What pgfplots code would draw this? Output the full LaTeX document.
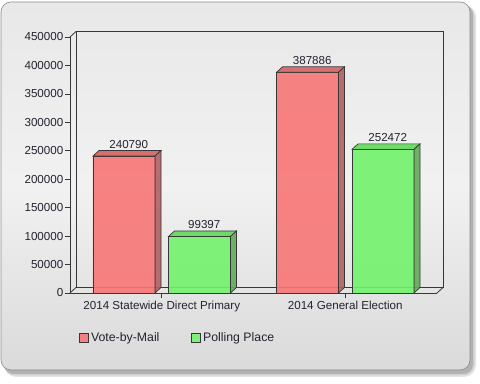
\documentclass[border=0pt]{standalone}
\usepackage{fontspec}
\setmainfont{Liberation Sans}
\usepackage{pgfplots}
\pgfplotsset{compat=1.18}
\usepackage{pgfplotstable}

\definecolor{redfront}{RGB}{248,118,118}
\definecolor{redtop}{RGB}{214,98,98}
\definecolor{redside}{RGB}{176,96,96}
\definecolor{greenfront}{RGB}{114,242,108}
\definecolor{greentop}{RGB}{98,216,90}
\definecolor{greenside}{RGB}{98,170,90}
\definecolor{edge}{RGB}{55,55,55}
\definecolor{txt}{RGB}{35,35,48}
\definecolor{metalA}{RGB}{232,232,232}
\definecolor{metalB}{RGB}{218,218,218}

\pgfplotstableread{
x y
0 240790
1 387886
}\mail
\pgfplotstableread{
x y
0 99397
1 252472
}\polling

\pgfdeclareplotmark{nothing}{}

\pgfplotsset{
  threed/.style n args={3}{
    scatter, only marks, mark=nothing, forget plot,
    visualization depends on={rawy \as \ry},
    scatter/@pre marker code/.code={%
      \edef\hh{\fpeval{\ry*256/450000}}%
      \begin{pgfscope}%
      \pgftransformshift{\pgfpoint{#1}{0pt}}%
      \pgfsetlinewidth{0.7bp}%
      \pgfsetstrokecolor{edge}%
      \pgfsetfillopacity{0.9}%
      \pgfsetfillcolor{#2}%
      \pgfpathmoveto{\pgfpoint{-31bp}{0bp}}%
      \pgfpathlineto{\pgfpoint{31bp}{0bp}}%
      \pgfpathlineto{\pgfpoint{37bp}{5.5bp}}%
      \pgfpathlineto{\pgfpoint{-25bp}{5.5bp}}%
      \pgfpathclose
      \pgfusepath{fill,stroke}%
      \pgfsetfillcolor{#3}%
      \pgfpathmoveto{\pgfpoint{31bp}{0bp}}%
      \pgfpathlineto{\pgfpoint{37bp}{5.5bp}}%
      \pgfpathlineto{\pgfpoint{37bp}{5.5bp-\hh bp}}%
      \pgfpathlineto{\pgfpoint{31bp}{-\hh bp}}%
      \pgfpathclose
      \pgfusepath{fill,stroke}%
      \end{pgfscope}%
    },
    scatter/@post marker code/.code={},
  },
  valuelabel/.style={
    point meta=explicit symbolic,
    nodes near coords,
    every node near coord/.append style={font=\fontsize{11.6bp}{13bp}\selectfont, text=txt,
      text opacity=1, fill opacity=1, inner sep=0pt, anchor=south, yshift=7.5bp, xshift=#1},
  },
}

\begin{document}
\begin{tikzpicture}
\useasboundingbox (0,0) rectangle (480bp,384bp);
\fill[white] (0,0) rectangle (480bp,384bp);
% shadow
\fill[black!10, rounded corners=12bp] (4bp,7bp) rectangle (476bp,379bp);
\fill[black!18, rounded corners=11bp] (4bp,8.5bp) rectangle (474.5bp,379bp);
\fill[black!30, rounded corners=10bp] (4bp,10bp) rectangle (473bp,379bp);
% panel
\shade[top color=metalA, bottom color=metalB, middle color=metalA!60!white, rounded corners=10bp]
  (1bp,14bp) rectangle (470bp,382bp);
\draw[black!45, line width=0.6bp, rounded corners=10bp] (1bp,14bp) rectangle (470bp,382bp);

\begin{axis}[
  at={(70bp,91bp)}, anchor=south west,
  scale only axis, width=367bp, height=256bp,
  xmin=-0.5, xmax=1.5, ymin=0, ymax=450000,
  clip=false,
  axis line style={draw=none},
  xtick={0,1},
  xticklabels={2014 Statewide Direct Primary, 2014 General Election},
  ytick={0,50000,...,450000},
  scaled y ticks=false,
  yticklabel style={/pgf/number format/fixed, /pgf/number format/1000 sep={}},
  /pgf/number format/assume math mode=true,
  tick align=outside,
  major tick length=5bp,
  tick style={edge, line width=0.7bp},
  xtick pos=bottom, ytick pos=left,
  ticklabel style={font=\fontsize{11.6bp}{13bp}\selectfont, text=txt},
  yticklabel style={inner sep=1.5bp},
  xticklabel style={inner sep=2bp, yshift=-1bp},
  legend style={at={(0.017,-0.175)}, anchor=west, draw=none, fill=none,
    font=\fontsize{12.3bp}{14bp}\selectfont, text=txt,
    /tikz/every even column/.append style={column sep=30bp}},
  legend columns=2,
]
% back wall and floor
\draw[edge, line width=0.8bp]
  ([shift={(6bp,5.5bp)}]rel axis cs:0,0) -- ([shift={(6bp,5.5bp)}]rel axis cs:0,1)
  -- ([shift={(6bp,5.5bp)}]rel axis cs:1,1) -- ([shift={(6bp,5.5bp)}]rel axis cs:1,0)
  -- cycle;
\draw[edge, line width=0.8bp]
  (rel axis cs:0,1) -- ([shift={(6bp,5.5bp)}]rel axis cs:0,1);
\draw[edge, line width=0.8bp]
  (rel axis cs:0,0) -- ([shift={(6bp,5.5bp)}]rel axis cs:0,0);
\draw[edge, line width=0.8bp]
  (rel axis cs:1,0) -- ([shift={(6bp,5.5bp)}]rel axis cs:1,0);

\addplot[threed={-37.75bp}{redtop}{redside}] table[x=x,y=y]{\mail};
\addplot[threed={37.75bp}{greentop}{greenside}] table[x=x,y=y]{\polling};

\addplot[ybar, bar width=62bp, bar shift=-37.75bp, fill=redfront, fill opacity=0.9,
  draw=edge, line width=0.7bp, valuelabel={-33bp},
  legend image code/.code={\draw[edge, line width=0.7bp, fill=redfront] (0bp,-4.5bp) rectangle (9bp,4.5bp);}]
  table[x=x,y=y,meta=y]{\mail};
\addlegendentry{Vote-by-Mail}
\addplot[ybar, bar width=62bp, bar shift=37.75bp, fill=greenfront, fill opacity=0.9,
  draw=edge, line width=0.7bp, valuelabel={42.5bp},
  legend image code/.code={\draw[edge, line width=0.7bp, fill=greenfront] (0bp,-4.5bp) rectangle (9bp,4.5bp);}]
  table[x=x,y=y,meta=y]{\polling};
\addlegendentry{Polling Place}

% front axis lines
\draw[edge, line width=0.8bp] (rel axis cs:0,1) -- (rel axis cs:0,0) -- (rel axis cs:1,0);
\end{axis}
\end{tikzpicture}
\end{document}
